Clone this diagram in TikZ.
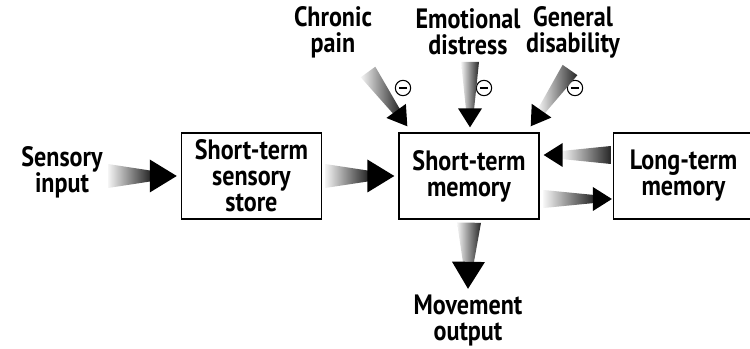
\documentclass[tikz,border=0pt]{standalone}
\usepackage{fontspec}
\newfontfamily\diagfont{PT Sans}[FakeStretch=0.86]
\usetikzlibrary{positioning,calc}

% tapered arrow: tail, tip, tail half width, head half width, head length (px)
\newcommand\fadearrow[5]{%
  \path (#1) coordinate (fa-tail) (#2) coordinate (fa-tip);
  \pgfpointdiff{\pgfpointanchor{fa-tail}{center}}{\pgfpointanchor{fa-tip}{center}}%
  \pgfgetlastxy{\fadx}{\fady}%
  \pgfmathsetmacro\faang{atan2(\fady,\fadx)}%
  \pgfmathsetmacro\falen{veclen(\fadx,\fady)/0.75}%
  \pgfmathsetmacro\faneck{\falen-#5}%
  \begin{scope}[shift={(fa-tail)}, rotate=\faang]
    \shade[left color=black!4, right color=black!85]
      (0,-#3) -- (0,#3) -- (\faneck+1,#3*0.45) -- (\faneck+1,-#3*0.45) -- cycle;
    \fill (\faneck,-#4) -- (\falen,0) -- (\faneck,#4) -- cycle;
  \end{scope}}
\newcommand\bigfade[2]{\fadearrow{#1}{#2}{12}{16.5}{27}}
\newcommand\smallfade[2]{\fadearrow{#1}{#2}{9}{12}{19}}

\begin{document}
\begin{tikzpicture}
[
x=0.75pt, y=-0.75pt,
lbl-font/.style={font=\diagfont\bfseries\fontsize{21}{19.5}\selectfont},
box-a/.style={draw, line width=1pt, minimum width=105pt, minimum height=64.5pt, inner sep=0pt, align=center, lbl-font},
text-a/.style={align=center, inner sep=1pt, lbl-font},
minus-a/.style={circle, draw, line width=0.8pt, minimum size=11.5pt, inner sep=0pt,
  path picture={\draw[line width=1pt] ([xshift=-3pt]path picture bounding box.center) -- ([xshift=3pt]path picture bounding box.center);}}
]
\useasboundingbox (0,0) rectangle (750,349);
% boxes
\node (stm)  [box-a] at (469,176)        {Short-term\\memory};
\node (sss)  [box-a, left  = 20.10mm of stm] {Short-term\\sensory\\store};
\node (ltm)  [box-a, right = 19.30mm of stm] {Long-term\\memory};
% labels
\node (sens) [text-a] at (62,172)  {Sensory\\input};
\node (pain) [text-a] at (333,32)  {Chronic\\pain};
\node (emo)  [text-a] at (468,32)  {Emotional\\distress};
\node (dis)  [text-a] at (573,32)  {General\\disability};
\node (move) [text-a] at (468,320) {Movement\\output};
% minus signs
\node (pain-m) [minus-a] at (403,88) {};
\node (emo-m)  [minus-a] at (484,88) {};
\node (dis-m)  [minus-a] at (575,88) {};
% free ends
\coordinate (pain-end) at (368,72);
\coordinate (emo-end)  at (470,62);
\coordinate (dis-end)  at (570,70);
\coordinate (sens-end) at (108,176);
% arrows
\bigfade{sens-end}{$(sss.west)+(-4,0)$}
\bigfade{$(sss.east)+(3,0)$}{$(stm.west)+(-4,0)$}
\bigfade{$(stm.south)+(0,3)$}{$(move.north)+(0,-4)$}
\smallfade{pain-end}{$(stm.north west)+(9,-6)$}
\smallfade{emo-end}{$(stm.north)+(1,-5)$}
\smallfade{dis-end}{$(stm.north east)+(-9,-6)$}
\smallfade{$(ltm.west)+(-2,-21)$}{$(stm.east)+(4,-21)$}
\smallfade{$(stm.east)+(4,23)$}{$(ltm.west)+(-1,23)$}
\end{tikzpicture}
\end{document}
